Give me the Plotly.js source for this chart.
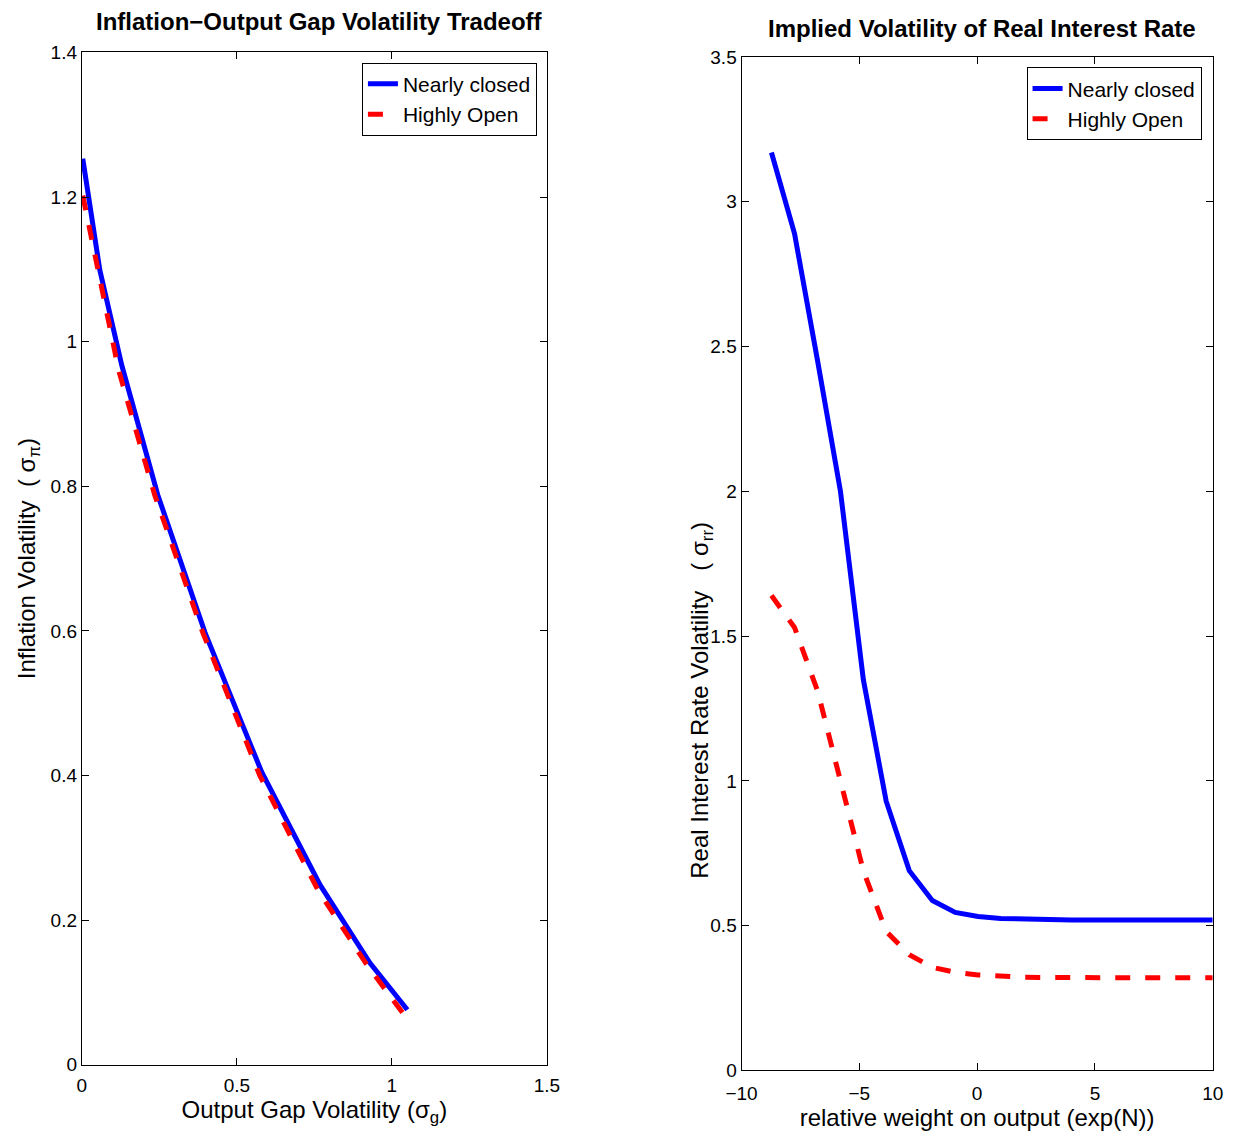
<!DOCTYPE html>
<html><head><meta charset="utf-8">
<script src="https://cdn.plot.ly/plotly-3.0.1.min.js"></script>
<style>body{margin:0}</style></head>
<body><div id="chart" style="width:1240px;height:1140px"></div>
<script>
// left panel: tradeoff
var gapClosed = [0.003, 0.058, 0.129, 0.245, 0.397, 0.58, 0.768, 0.929, 1.05];
var infClosed = [1.253, 1.099, 0.967, 0.788, 0.598, 0.405, 0.249, 0.141, 0.076];
var gapOpen = [0.003, 0.045, 0.119, 0.235, 0.39, 0.574, 0.761, 0.92, 1.04];
var infOpen = [1.202, 1.112, 0.96, 0.788, 0.598, 0.40, 0.242, 0.138, 0.069];
// right panel: real rate volatility
var weightN = [-8.73, -7.75, -6.77, -5.8, -4.83, -3.86, -2.88, -1.9, -0.93, 0.04, 1.0, 2.0, 3.0, 4.0, 5.0, 6.0, 7.0, 8.0, 9.0, 10.0];
var rrClosed = [3.17, 2.89, 2.45, 2.0, 1.35, 0.93, 0.69, 0.587, 0.546, 0.532, 0.525, 0.522, 0.521, 0.52, 0.52, 0.52, 0.52, 0.52, 0.52, 0.52];
var rrOpen = [1.64, 1.53, 1.31, 1.0, 0.69, 0.48, 0.40, 0.356, 0.339, 0.33, 0.325, 0.322, 0.321, 0.32, 0.32, 0.32, 0.32, 0.32, 0.32, 0.32];

var blue = {color: '#0000ff', width: 5};
var red = {color: '#ff0000', width: 5, dash: 'dash'};
var traces = [
  {x: gapClosed, y: infClosed, name: 'Nearly closed', mode: 'lines', line: blue, xaxis: 'x', yaxis: 'y', legend: 'legend'},
  {x: gapOpen, y: infOpen, name: 'Highly Open', mode: 'lines', line: red, xaxis: 'x', yaxis: 'y', legend: 'legend'},
  {x: weightN, y: rrClosed, name: 'Nearly closed', mode: 'lines', line: blue, xaxis: 'x2', yaxis: 'y2', legend: 'legend2'},
  {x: weightN, y: rrOpen, name: 'Highly Open', mode: 'lines', line: red, xaxis: 'x2', yaxis: 'y2', legend: 'legend2'}
];
var ax = {showgrid: false, zeroline: false, showline: true, mirror: 'ticks', ticks: 'inside', ticklen: 7,
  linecolor: '#000', tickcolor: '#000', tickfont: {size: 19, color: '#000'}};
function A(o){ return Object.assign({}, ax, o); }
var leg = {bordercolor: '#000', borderwidth: 1, bgcolor: '#fff', font: {size: 21, color: '#000'}, xanchor: 'right', yanchor: 'top', tracegroupgap: 0};
var layout = {
  width: 1240, height: 1140, margin: {l: 0, r: 0, t: 0, b: 0},
  paper_bgcolor: '#fff', plot_bgcolor: '#fff',
  font: {family: 'Liberation Sans, Arial, sans-serif', color: '#000'},
  xaxis: A({domain: [0.066, 0.441], range: [0, 1.5], dtick: 0.5, anchor: 'y', ticklabelstandoff: 3,
    title: {text: 'Output Gap Volatility (σ<sub>g</sub>)', font: {size: 24}, standoff: 4}}),
  yaxis: A({domain: [0.066, 0.954], range: [0, 1.4], dtick: 0.2, anchor: 'x',
    title: {text: 'Inflation Volatility  ( σ<sub>π</sub>)', font: {size: 24}, standoff: 8}}),
  xaxis2: A({domain: [0.598, 0.978], range: [-10, 10], dtick: 5, anchor: 'y2', ticklabelstandoff: 6,
    title: {text: 'relative weight on output (exp(N))', font: {size: 24}, standoff: 2}}),
  yaxis2: A({domain: [0.061, 0.95], range: [0, 3.5], dtick: 0.5, anchor: 'x2'}),
  legend: Object.assign({}, leg, {x: 0.433, y: 0.945}),
  legend2: Object.assign({}, leg, {x: 0.969, y: 0.941}),
  annotations: [
    {text: '<b>Inflation−Output Gap Volatility Tradeoff</b>', xref: 'paper', yref: 'paper', x: 0.258, y: 0.981, xanchor: 'center', yanchor: 'middle', showarrow: false, font: {size: 24}},
    {text: '<b>Implied Volatility of Real Interest Rate</b>', xref: 'paper', yref: 'paper', x: 0.792, y: 0.975, xanchor: 'center', yanchor: 'middle', showarrow: false, font: {size: 24}},
    {text: 'Real Interest Rate Volatility   ( σ<sub>rr</sub>)', xref: 'paper', yref: 'paper', x: 0.566, y: 0.386, xanchor: 'center', yanchor: 'middle', textangle: -90, showarrow: false, font: {size: 24}}
  ]
};
Plotly.newPlot('chart', traces, layout, {displayModeBar: false});
</script></body></html>
